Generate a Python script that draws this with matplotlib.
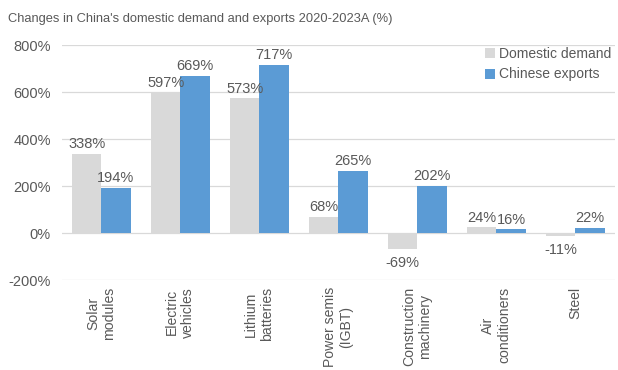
import numpy as np
import matplotlib
matplotlib.use("Agg")
import matplotlib.pyplot as plt
from matplotlib.ticker import FuncFormatter

plt.rcParams['font.family'] = ['Liberation Sans', 'DejaVu Sans']

categories = ["Solar\nmodules", "Electric\nvehicles", "Lithium\nbatteries", "Power semis\n(IGBT)",
              "Construction\nmachinery", "Air\nconditioners", "Steel"]
domestic = [338, 597, 573, 68, -69, 24, -11]
exports = [194, 669, 717, 265, 202, 16, 22]

text_col = "#595959"
gray = "#D9D9D9"
blue = "#5B9BD5"
fs = 10.5

fig = plt.figure(figsize=(6.18, 3.70), dpi=100)
ax = fig.add_axes([0.100, 0.243, 0.895, 0.635])

x = np.arange(len(categories))
w = 0.37
b1 = ax.bar(x - w / 2, domestic, w, color=gray, label="Domestic demand", zorder=2)
b2 = ax.bar(x + w / 2, exports, w, color=blue, label="Chinese exports", zorder=2)

# value labels above (or below for negatives) each bar
for bars, vals in ((b1, domestic), (b2, exports)):
    for r, v in zip(bars, vals):
        off = 2 if v >= 0 else -5
        ax.annotate(f"{v}%", (r.get_x() + r.get_width() / 2, v), xytext=(0, off),
                    textcoords="offset points", ha="center",
                    va="bottom" if v >= 0 else "top", fontsize=fs, color=text_col)

ax.set_xlim(-0.5, len(categories) - 0.5)
ax.set_ylim(-200, 800)
ax.set_yticks(range(-200, 801, 200))
ax.yaxis.set_major_formatter(FuncFormatter(lambda v, p: f"{int(v)}%"))
ax.set_xticks(x)
ax.set_xticklabels(categories, rotation=90, fontsize=10.1, color=text_col)
ax.tick_params(axis="y", length=0, pad=8, labelsize=fs, labelcolor=text_col)
ax.tick_params(axis="x", length=0, pad=5)
ax.grid(axis="y", color="#D9D9D9", linewidth=0.9, zorder=0)
for s in ax.spines.values():
    s.set_visible(False)

leg = ax.legend(loc="upper right", bbox_to_anchor=(0.995, 1.0), frameon=False, fontsize=10,
                handlelength=0.75, handleheight=0.75, handletextpad=0.25, labelspacing=0.5,
                borderaxespad=0.0, borderpad=0.1)
for t in leg.get_texts():
    t.set_color(text_col)

fig.text(0.013, 0.94, "Changes in China's domestic demand and exports 2020-2023A (%)",
         fontsize=9.3, color=text_col, ha="left", va="baseline")

fig.savefig("out.png", dpi=100)
